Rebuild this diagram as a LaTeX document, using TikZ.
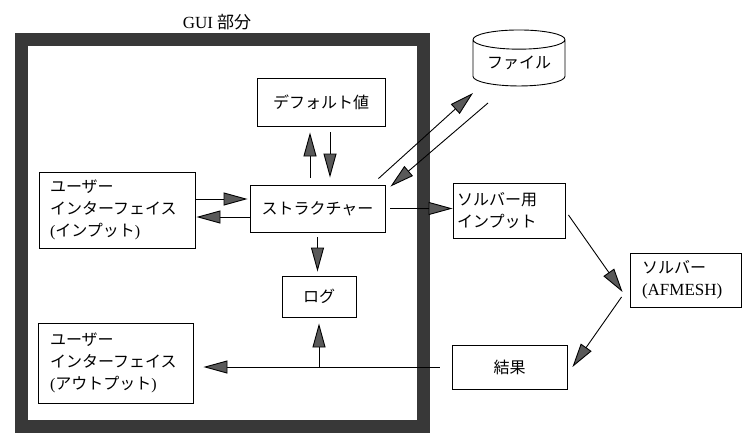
\documentclass[tikz,border=0pt]{standalone}
\usepackage{fontspec}
\setmainfont{Liberation Serif}
\newfontfamily\cjk{Noto Sans CJK JP}
\usetikzlibrary{arrows.meta,shapes.geometric,calc}
\begin{document}
\begin{tikzpicture}[x=1pt,y=-1pt,
  box/.style={draw, line width=0.9pt, inner sep=0pt, font=\cjk\fontsize{16}{22}\selectfont},
  lbox/.style={box, align=left},
  arr/.style={line width=0.9pt, -{Triangle[length=24pt,width=13pt,fill=black!65]}},
]
\useasboundingbox (0,0) rectangle (749,434);
\fill[white] (0,0) rectangle (749,434);
\draw[line width=13pt, black!78] (21,39) rectangle (423,426);
\node[font=\fontsize{17}{20}\selectfont] (guilabel) at (217,22) {GUI {\cjk 部分}};

\node[box, minimum width=128pt, minimum height=48pt] (def) at (321,102) {デフォルト値};
\node[box, minimum width=135pt, minimum height=47pt] (str) at (317.5,208.5) {ストラクチャー};
\node[lbox, minimum height=76pt, text width=134pt, inner xsep=11pt] (uiin) at (117,210)
  {ユーザー\\インターフェイス\\{\rmfamily(}インプット{\rmfamily)}};
\node[box, minimum width=74pt, minimum height=41pt] (log) at (319,296.5) {ログ};
\node[lbox, minimum height=80pt, text width=131pt, inner xsep=12pt] (uiout) at (115.5,363)
  {ユーザー\\インターフェイス\\{\rmfamily(}アウトプット{\rmfamily)}};
\node[draw, line width=0.9pt, cylinder, shape border rotate=90, aspect=0.3,
  minimum width=92pt, minimum height=56pt, inner sep=0pt, font=\cjk\fontsize{16}{22}\selectfont] (file) at (519,63) {ファイル};
\node[lbox, minimum height=55pt, text width=104pt, inner xsep=4pt] (solin) at (509,210.5)
  {ソルバー用\\インプット};
\node[lbox, minimum height=54pt, text width=87pt, inner xsep=12pt] (solver) at (685.5,280)
  {ソルバー\\{\rmfamily\fontsize{17}{22}\selectfont(AFMESH)}};
\node[box, minimum width=115pt, minimum height=44pt] (res) at (509.5,367) {結果};

% default <-> structure
\draw[arr, shorten <=7pt, shorten >=6pt] ([xshift=-7.5pt]str.north) -- ([xshift=-11pt]def.south);
\draw[arr, shorten <=6pt, shorten >=7pt] ([xshift=9pt]def.south) -- ([xshift=12.5pt]str.north);
% ui input <-> structure
\draw[arr, shorten >=2pt] ([yshift=11pt]uiin.east) -- ([yshift=9.5pt]str.west);
\draw[arr, shorten >=1pt] ([yshift=-8.5pt]str.west) -- ([yshift=-7pt]uiin.east);
% structure -> solver input
\draw[arr, shorten <=5pt] (str.east) -- (str.east -| solin.west);
% structure -> log
\draw[arr, shorten <=5pt, shorten >=4pt] (str.south) -- (str.south |- log.north);
% file arrows
\draw[arr] ([shift={(-7pt,6pt)}]str.north east) -- ([shift={(-46pt,-30pt)}]file.center);
\draw[arr] ([shift={(-31pt,-40pt)}]file.center) -- ([shift={(5pt,-2pt)}]str.north east);
% solver chain
\draw[arr] ([shift={(3pt,-4.5pt)}]solin.east) -- ([shift={(-7pt,-12pt)}]solver.west);
\draw[arr] ([shift={(-8pt,-17pt)}]solver.west) -- ([shift={(5pt,0pt)}]res.east);
% result -> ui output, log
\coordinate (j) at (log.south |- res.west);
\draw[arr, shorten <=12pt, shorten >=10pt] (res.west) -- (uiout.east |- res.west);
\draw[arr, shorten >=6pt] (j) -- (log.south);
\end{tikzpicture}
\end{document}
